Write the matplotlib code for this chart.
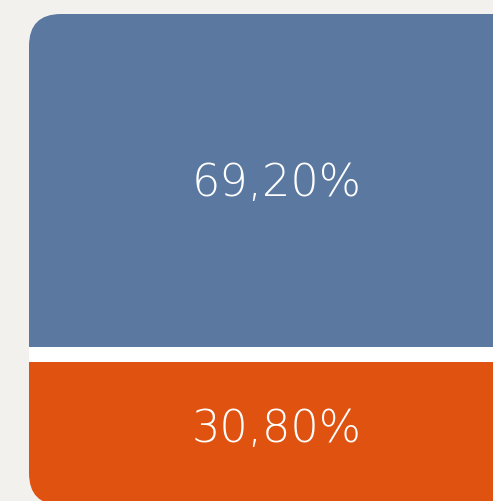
import matplotlib
matplotlib.use('Agg')
import matplotlib.pyplot as plt
from matplotlib.patches import FancyBboxPatch

categories = ['top', 'bottom']
shares = [69.2, 30.8]
labels = ['69,20%', '30,80%']
colors = ['#5a78a0', '#e05210']

PX = 4.91  # pixels per data unit (same on both axes so corners stay round)

fig = plt.figure(figsize=(4.93, 5.01), dpi=100)
fig.patch.set_facecolor('#f2f1ee')
ax = fig.add_axes([0, 0, 1, 1])
ax.set_facecolor('#f2f1ee')
ax.set_xlim(0, 493 / PX)
ax.set_ylim(100 - 487 / PX, 100 + 14 / PX)
ax.axis('off')

left = 29 / PX
width = 496 / PX
xc = left + width / 2

clip = FancyBboxPatch((left, 0), width, 100,
                      boxstyle='round,pad=0,rounding_size=%f' % (32 / PX),
                      facecolor='none', edgecolor='none')
ax.add_patch(clip)

bottom = 100.0
for name, val, lab, col in zip(categories, shares, labels, colors):
    bottom -= val
    bars = ax.bar(xc, val, width=width, bottom=bottom, color=col, linewidth=0)
    for b in bars:
        b.set_clip_path(clip)
    ax.text(xc, bottom + val / 2, lab, color='white', ha='center', va='center',
            fontsize=32, family='DejaVu Sans', fontweight='light')

# white gap between the two segments
sep = ax.axhline(shares[1], color='white', linewidth=15 * 0.72)
sep.set_clip_path(clip)

fig.savefig('out.png', dpi=100, facecolor=fig.get_facecolor())
